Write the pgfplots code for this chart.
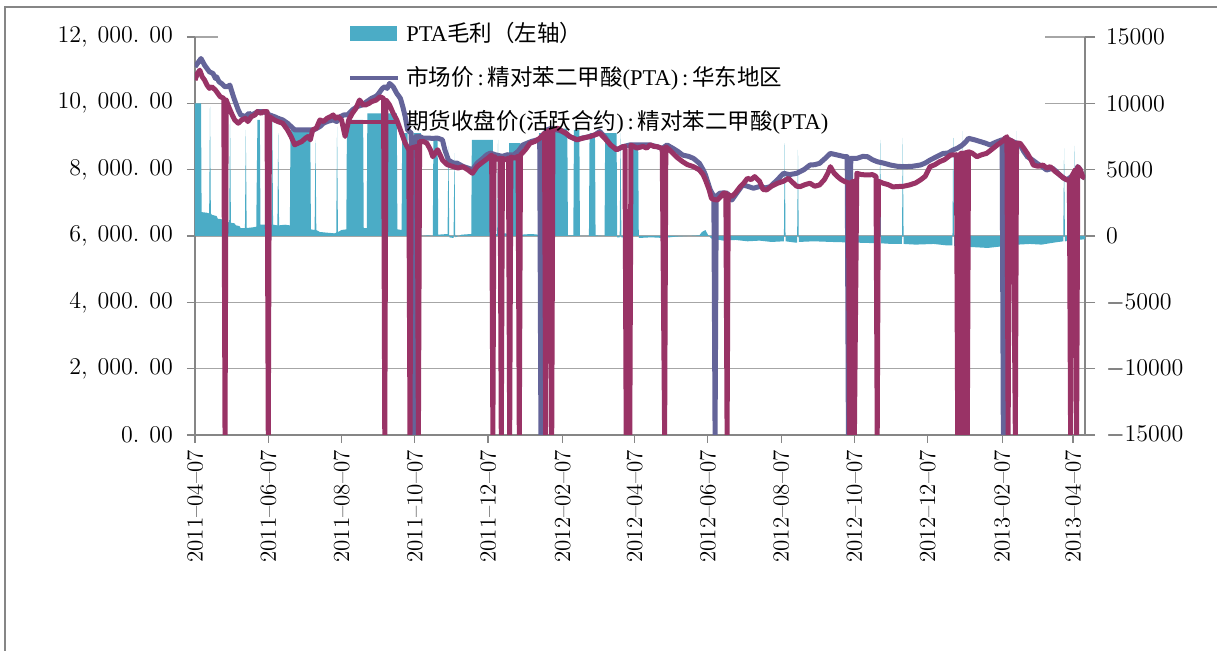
\documentclass[border=0pt]{standalone}
\usepackage{pgfplots}
\usepackage{pgfplotstable}
\pgfplotsset{compat=1.18}
\usepackage{fontspec}
\newfontfamily\cjk{Noto Sans CJK SC}
\newfontfamily\tms{Liberation Serif}
\definecolor{teal1}{RGB}{75,172,198}
\definecolor{mktc}{RGB}{100,100,153}
\definecolor{futc}{RGB}{153,51,102}
\definecolor{gridc}{RGB}{166,166,166}
\definecolor{axc}{RGB}{134,134,134}

% PTA margin (right axis), x = days since 2011-04-07
\pgfplotstableread{
d v
0 0
0 10000
5 10000
5.5 1800
10 1750
11.8 1700
12.5 9750
13.2 1700
14 1600
18 1500
19 1300
23 1250
24 1200
27 1100
28.5 1000
29.2 9100
29.9 1000
33 950
34 800
37 750
38 600
41.6 600
42.3 8000
43 600
48 650
51 700
52 8750
54 8750
54.5 850
60 850
63.6 850
64.3 9100
65 850
68.6 800
69.3 7750
70 800
75 850
79 800
79.5 8000
96 8000
96.5 500
99.6 450
100.3 7250
101 450
104 300
110 250
116 200
117.6 250
118.3 8250
119 300
122 450
126 500
126.5 8750
140 8750
140.5 600
143 600
143.5 9250
168 9250
168.5 500
172 450
172.5 7750
177 7750
177.5 100
181 -100
182 7750
188 7750
188.5 0
194 50
198 0
198.5 7500
202 7500
202.5 100
210.3 150
211 6750
211.7 -100
215.3 -150
216 6250
216.7 -100
222 100
230 150
230.5 7250
248 7250
248.5 150
251.6 150
252.3 7250
253 150
258 200
261 150
261.5 7000
271 7000
271.5 100
280 150
286 100
286.5 7750
289 7750
289.5 150
298 100
298.5 8100
310 8100
310.5 50
315 50
315.5 8000
320 8000
320.5 0
328 0
328.5 7750
333 7750
333.5 50
341 0
341.5 7750
351 7750
351.5 -100
353.6 -100
354.3 7750
355 -100
362 -100
362.5 6900
369 6900
369.5 -150
380 -100
390 -150
400 -50
410 0
420 50
422 300
425 450
427 100
430 -200
440 -350
450 -300
460 -400
470 -350
480 -450
490.3 -400
491 7000
491.7 -400
500 -500
501.3 -500
502 6500
502.7 -450
515 -400
530 -450
550 -500
569.8 -550
570.5 7250
571.2 -550
580 -600
588.6 -600
589.3 7400
590 -600
600 -650
615 -600
625 -700
630.6 -700
631.3 7400
632 -750
638.6 -750
639.3 7900
640 -800
650 -850
660 -900
670 -800
680 -700
683.6 -700
684.3 7900
685 -650
695 -600
705 -650
715 -500
722.9 -400
723.6 6600
724.3 -400
731.3 -350
732 6800
732.7 -300
741 -250
741 0
}\margin

% market price (left axis)
\pgfplotstableread{
d v
0 11100
3 11250
5 11350
8 11150
10 11050
12 10950
15 10900
17 10750
18 10800
20 10650
22 10600
25 10500
27 10500
29 10550
32 10200
34 10000
36 9800
38 9650
42 9600
45 9700
47 9650
50 9700
52 9750
57 9750
60 9700
62 9650
66 9600
69 9550
73 9500
77 9400
80 9300
83 9200
89 9200
94 9200
99 9200
104 9300
107 9400
110 9450
115 9500
118 9450
121 9600
124 9650
127 9650
131 9800
135 9900
139 9950
143 10050
147 10150
150 10200
152 10250
156 10450
158 10500
160 10450
162 10600
165 10500
168 10300
171 10150
173 9900
175 9600
177 9200
180 9100
182 0
184 9000
187 9000
190 8950
193 8950
198 8945
202 8950
206 8900
208 8600
211 8290
215 8200
218 8200
223 8100
227 8050
231 8000
235 8200
240 8350
243 8450
246 8500
250 8450
256 8400
260 8450
265 8440
269 8550
273 8745
280 8850
285 8900
287 8900
288 0
289 8950
293 9200
297 9250
301 9200
306 9150
312 9000
318 8900
322 8950
329 9000
333 9050
337 9150
341 9000
346 8745
351 8600
356 8690
362 8745
368 8745
373 8745
379 8745
385 8690
389 8640
393 8745
398 8640
402 8550
406 8440
411 8400
415 8340
420 8190
423 8000
425 7840
429 7390
432 7190
433 0
434 7200
437 7290
440 7300
443 7290
447 7085
451 7290
456 7540
460 7500
465 7440
470 7490
475 7450
479 7490
485 7700
490 7890
495 7850
501 7890
507 8000
512 8140
516 8150
520 8190
525 8350
529 8490
535 8440
541 8390
543 8390
544 0
546 8340
551 8340
556 8400
560 8390
564 8300
568 8240
573 8200
579 8140
585 8100
590 8090
597 8100
604 8140
608 8200
612 8290
618 8400
623 8490
627 8500
631 8590
635 8650
639 8745
642 8850
644 8945
649 8900
654 8845
658 8800
662 8745
665 8800
668 8845
672 8900
673 0
674 8950
678 8900
681 8845
684 8800
687 8745
690 8550
693 8390
697 8300
701 8190
705 8100
709 7990
714 8040
717 7950
720 7840
723 7750
726 7690
730 7800
733 7900
735 8090
737 8000
739 7790
741 7750
}\market

% futures close (left axis)
\pgfplotstableread{
d v
0 10700
2 10900
4 11000
6 10800
8 10700
10 10550
12 10450
14 10500
17 10400
19 10300
21 10200
24 10150
25 0
26 10100
28 9900
31 9650
33 9500
36 9400
39 9500
42 9550
44 9450
47 9600
50 9650
52 9750
55 9700
57 9750
60 9750
61 0
62 9600
66 9500
69 9450
73 9400
77 9200
80 9000
83 8750
86 8800
89 8850
92 8950
94 9000
96 8900
98 9200
101 9250
104 9500
107 9450
110 9550
113 9600
115 9650
117 9550
119 9600
122 9500
125 9000
128 9500
131 9700
134 9850
137 10100
140 9950
142 9950
145 10000
147 10050
151 10100
154 10200
157 10150
158 0
159 10100
162 9950
165 9700
168 9500
171 9200
173 9000
175 8800
178 8600
179 0
180 8650
185 8700
186 0
187 8845
190 8850
193 8800
196 8600
198 8390
200 8500
202 8600
204 8450
206 8290
210 8150
215 8090
219 8050
223 8090
227 8000
231 7890
235 8100
240 8240
244 8350
247 8440
248 0
249 8400
252 8300
254 8350
255 0
256 8340
259 8300
261 8350
262 0
263 8380
266 8350
269 8400
270 0
271 8440
275 8600
279 8800
283 8850
287 8945
291 9100
292 0
293 9150
296 9200
297 0
298 9200
302 9250
306 9150
309 9100
312 9000
315 8950
318 8900
323 8950
329 9000
333 9050
337 9100
341 8950
346 8745
351 8600
356 8690
358 8700
359 0
362 0
363 8740
368 8650
373 8700
376 8650
379 8750
382 8700
385 8690
389 8640
391 0
392 8690
395 8600
398 8490
402 8350
406 8240
410 8150
415 8090
420 7990
423 7850
425 7690
428 7400
430 7135
432 7100
435 7085
438 7200
440 7290
442 7290
443 0
444 7250
447 7190
450 7300
454 7490
457 7600
460 7740
463 7700
466 7790
470 7650
473 7400
476 7390
480 7500
485 7590
490 7650
494 7740
498 7600
501 7500
504 7490
508 7550
512 7590
516 7500
520 7540
524 7700
527 7900
529 8090
532 7900
535 7790
538 7700
541 7640
544 7600
545 0
546 7600
548 7650
549 0
551 7890
555 7850
560 7840
564 7850
567 7800
568 0
569 7650
573 7590
577 7550
581 7480
585 7490
590 7500
595 7540
600 7600
604 7690
608 7800
612 8090
616 8150
620 8240
624 8300
629 8440
634 8450
635 0
636 8450
637 0
638 8500
639 0
640 8500
641 0
642 8520
643 0
644 8540
647 8500
651 8390
655 8450
659 8490
663 8600
668 8745
672 8850
676 8995
677 0
678 8900
681 8845
683 0
684 8800
687 8795
690 8650
693 8490
696 8300
698 8140
702 8100
706 8140
709 8050
712 8090
716 7950
720 7840
723 7750
726 7690
728 7690
729 0
730 7800
733 8000
734 0
735 8090
737 8000
739 7790
741 7750
}\futures

\pgfplotsset{base/.style={scale only axis, width=445pt, height=199pt,
  xmin=0, xmax=741, at={(0,0)}, anchor=south west,
  scaled x ticks=false, scaled y ticks=false}}

\begin{document}
\begin{tikzpicture}
\useasboundingbox (-97.5pt,-108pt) rectangle (511pt,217.5pt);
\draw[axc, line width=0.8pt] (-95pt,-108pt) -- (-95pt,214pt) -- (511pt,214pt);

% axis 1: left axis, grid, date ticks
\begin{axis}[base, ymin=0, ymax=12000, clip=false,
  axis x line*=bottom, axis y line*=left,
  axis line style={axc, line width=0.6pt},
  ytick={0,2000,4000,6000,8000,10000,12000},
  yticklabels={{0.\hspace{5pt}00},{2,\hspace{5pt}000.\hspace{5pt}00},{4,\hspace{5pt}000.\hspace{5pt}00},{6,\hspace{5pt}000.\hspace{5pt}00},{8,\hspace{5pt}000.\hspace{5pt}00},{10,\hspace{5pt}000.\hspace{5pt}00},{12,\hspace{5pt}000.\hspace{5pt}00}},
  ymajorgrids, grid style={gridc, line width=0.6pt},
  xtick={0,61,122,183,244,306,366,427,488,549,610,672,731},
  xticklabels={2011--04--07,2011--06--07,2011--08--07,2011--10--07,2011--12--07,2012--02--07,2012--04--07,2012--06--07,2012--08--07,2012--10--07,2012--12--07,2013--02--07,2013--04--07},
  tick align=outside, major tick length=4pt,
  tick style={axc, line width=0.6pt},
  xticklabel style={rotate=90, anchor=east, font=\fontsize{11.5}{12}\selectfont},
  yticklabel style={font=\fontsize{12}{13}\selectfont, xshift=-3.5pt},
]
\fill[white] (axis cs:129,9196) rectangle (axis cs:708,12150);
\fill[white] (axis cs:19,11700) rectangle (axis cs:129,12150);
\end{axis}

% axis 2: right axis, margin area
\begin{axis}[base, ymin=-15000, ymax=15000,
  axis x line=none, axis y line*=right,
  axis line style={axc, line width=0.6pt},
  ytick={-15000,-10000,-5000,0,5000,10000,15000},
  /pgf/number format/1000 sep={},
  tick align=outside, major tick length=5pt,
  tick style={axc, line width=0.6pt},
  yticklabel style={font=\fontsize{12.5}{13}\selectfont, xshift=2pt},
]
\addplot[fill=teal1, draw=none] table[x=d, y=v] {\margin} \closedcycle;
\end{axis}

% axis 3: price lines and legend
\begin{axis}[base, ymin=0, ymax=12000, hide axis,
  legend cell align=left,
  legend style={at={(0.172,1.043)}, anchor=north west, draw=none, fill=none,
    inner sep=0pt, row sep=9pt, font=\fontsize{11.25}{13}\selectfont,
    nodes={inner sep=1pt},
    /tikz/every odd column/.append style={column sep=2pt}},
  legend image code/.code={\draw[#1, line width=2pt] (0pt,0pt) -- (24pt,0pt);},
]
\addlegendimage{legend image code/.code={\fill[teal1] (0pt,-3.5pt) rectangle (23pt,3.5pt);}}
\addlegendentry{{\tms PTA}{\cjk 毛利（左轴）}}
\addplot[mktc, line width=2.5pt, line join=round] table[x=d, y=v] {\market};
\addlegendentry{{\cjk 市场价}{\tms\,:\,}{\cjk 精对苯二甲酸}{\tms (PTA)\,:\,}{\cjk 华东地区}}
\addplot[futc, line width=2.5pt, line join=round] table[x=d, y=v] {\futures};
\addlegendentry{{\cjk 期货收盘价}{\tms (}{\cjk 活跃合约}{\tms )\,:\,}{\cjk 精对苯二甲酸}{\tms (PTA)}}
\end{axis}
\end{tikzpicture}
\end{document}
